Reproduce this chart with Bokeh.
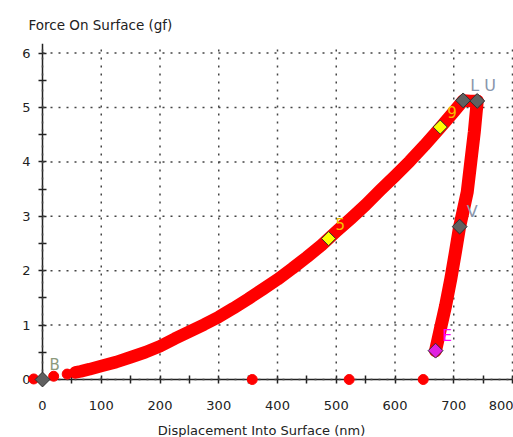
import math
from bokeh.plotting import figure
from bokeh.models import Range1d, FixedTicker, Label
from bokeh.core.properties import value
from bokeh.embed import file_html
from bokeh.resources import INLINE

# ---- data ----
load_x = [56, 65, 80, 100, 125, 150, 175, 200, 225, 250, 275, 300, 325, 350, 375,
          400, 425, 450, 475, 500, 525, 550, 575, 600, 625, 650, 677, 700, 716, 728, 740]
load_y = [0.13, 0.15, 0.19, 0.25, 0.32, 0.41, 0.50, 0.61, 0.75, 0.88, 1.01, 1.15, 1.31, 1.48, 1.66,
          1.84, 2.04, 2.25, 2.47, 2.72, 2.96, 3.21, 3.48, 3.74, 4.01, 4.30, 4.63, 4.92, 5.13, 5.12, 5.12]

unload_x = [740, 735, 729, 723, 716, 710, 703, 695, 686, 677, 669]
unload_y = [5.12, 4.55, 4.00, 3.45, 3.10, 2.81, 2.35, 1.85, 1.35, 0.92, 0.53]

dots_x = [-15, 19, 42, 357, 522, 648]
dots_y = [0.01, 0.06, 0.10, 0.0, 0.0, 0.0]

origin_x = [0]
origin_y = [0.0]
origin_lbl = ["B"]

gray_x = [716, 740, 710]
gray_y = [5.13, 5.12, 2.81]
gray_lbl = ["L", "U", "V"]

yel_x = [487, 677]
yel_y = [2.59, 4.64]
yel_lbl = ["5", "9"]

mag_x = [669]
mag_y = [0.53]
mag_lbl = ["E"]

x_ticks = [0, 100, 200, 300, 400, 500, 600, 700, 800]
y_ticks = [0, 1, 2, 3, 4, 5, 6]

FONT = "DejaVu Sans"
X0, X1 = -71.5, 801.7
Y0, Y1 = -1.066, 6.176

p = figure(width=513, height=437, output_backend="svg", toolbar_location=None,
           x_range=Range1d(X0, X1), y_range=Range1d(Y0, Y1),
           min_border_left=0, min_border_right=0, min_border_bottom=0, min_border_top=43)
p.outline_line_color = None
p.background_fill_color = "white"
p.border_fill_color = "white"

p.title.text = "Force On Surface (gf)"
p.title.align = "left"
p.title.text_font = FONT
p.title.text_font_size = "13.5px"
p.title.text_font_style = "normal"
p.title.text_color = "#222222"
p.title.offset = 28
p.title.standoff = 22

# axes
xa = p.xaxis[0]
ya = p.yaxis[0]
xa.fixed_location = 0
ya.fixed_location = 0
xa.ticker = FixedTicker(ticks=x_ticks, minor_ticks=[v + 50 for v in x_ticks[:-1]])
ya.ticker = FixedTicker(ticks=y_ticks, minor_ticks=[v + 0.5 for v in y_ticks[:-1]])
xa.bounds = (0, 800)
ya.bounds = (0, Y1)
for ax in (xa, ya):
    ax.level = "underlay"
    ax.axis_line_color = "#222222"
    ax.axis_line_width = 1.5
    ax.major_tick_line_color = "#222222"
    ax.minor_tick_line_color = "#222222"
    ax.major_tick_line_width = 1.5
    ax.minor_tick_line_width = 1.5
    ax.major_tick_in = 4
    ax.major_tick_out = 4
    ax.minor_tick_in = 4
    ax.minor_tick_out = 4
    ax.major_label_text_font = FONT
    ax.major_label_text_font_size = "13px"
    ax.major_label_text_color = "#222222"
xa.major_label_standoff = 17
ya.major_label_standoff = 8

p.add_layout(Label(x=261, y=7, x_units="screen", y_units="screen",
                   text="Displacement Into Surface (nm)", text_align="center",
                   text_baseline="middle", text_font=FONT, text_font_size="13px",
                   text_color="#222222"))

# grid (dotted, only in the positive quadrant)
p.xgrid.visible = False
p.ygrid.visible = False
p.segment(x0=[0] * len(y_ticks), y0=y_ticks, x1=[800] * len(y_ticks), y1=y_ticks,
          line_color="#444444", line_dash="2 6", line_width=1.5)
p.segment(x0=x_ticks, y0=[0] * len(x_ticks), x1=x_ticks, y1=[Y1] * len(x_ticks),
          line_color="#444444", line_dash="2 6", line_width=1.5)

# curves
p.line(load_x, load_y, line_color="#ff0000", line_width=12.5, line_join="round", line_cap="round")
p.line(unload_x, unload_y, line_color="#ff0000", line_width=13, line_join="round", line_cap="round")
p.scatter(dots_x, dots_y, size=10, color="#ff0000")

# markers
rot = math.pi / 4
p.scatter(origin_x + gray_x, origin_y + gray_y, marker="square", size=10.5, angle=rot,
          fill_color="#606060", line_color="#303030", line_width=1)
p.scatter(yel_x, yel_y, marker="square", size=10, angle=rot,
          fill_color="#ffff00", line_color="#303030", line_width=1)
p.scatter(mag_x, mag_y, marker="square", size=10.5, angle=rot,
          fill_color="#e020e0", line_color="#303030", line_width=1)

# labels
common = dict(x_offset=7, y_offset=-15, text_align="left", text_baseline="middle",
              text_font=value(FONT))
p.text(origin_x, origin_y, text=origin_lbl, text_font_size="15px", text_color="#8c9a7c", **common)
p.text(gray_x, gray_y, text=gray_lbl, text_font_size="16px", text_color="#8a96ac", **common)
p.text(yel_x, yel_y, text=yel_lbl, text_font_size="15px", text_color="#f5c000", **common)
p.text(mag_x, mag_y, text=mag_lbl, text_font_size="15px", text_color="#ff00ff", **common)

open("out.html", "w").write(file_html(p, INLINE))
